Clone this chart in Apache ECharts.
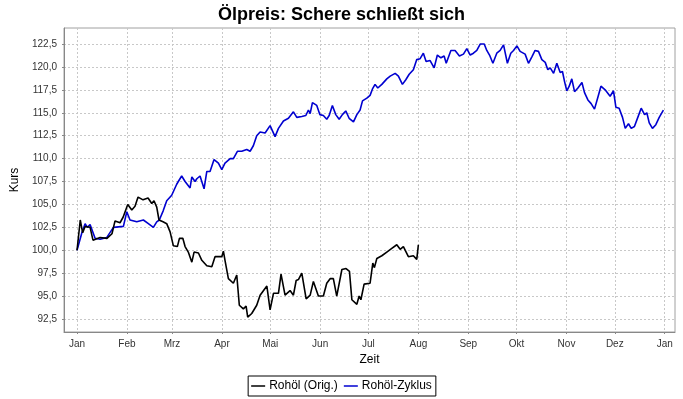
<!DOCTYPE html>
<html>
<head>
<meta charset="utf-8">
<title>Ölpreis: Schere schließt sich</title>
<script src="https://cdn.jsdelivr.net/npm/echarts@6/dist/echarts.min.js"></script>
<style>
    html, body { margin: 0; padding: 0; background: #fff; }
    #chart { width: 683px; height: 399px; }
</style>
</head>
<body>
<div id="chart"></div>
<script>
var oilDays = [0, 2, 3.5, 5, 8.1, 9.9, 14.3, 18.6, 21.7, 23.6, 26.7, 28.6, 31.5, 34, 36, 37.9, 41, 44.1, 46.4, 47.8,
    49.5, 50.9, 53.4, 55.7, 57.8, 59.8, 62.3, 63.6, 65.7, 67.1, 69.1, 71.3, 72.7, 75.4, 77.5, 80.6, 83.7, 85.7, 89.9, 90.9,
    91.9, 94, 97.1, 99.2, 100.8, 103.3, 105, 106, 108.5, 111.6, 113.7, 117.9, 119.9, 122, 125.1, 126.7, 129.2, 132.3, 134.4, 136.1,
    137.5, 139.6, 142.3, 144.8, 146.8, 149.9, 153, 155.1, 157.2, 159.2, 161.3, 164.5, 167.1, 169.2, 170.7, 173.8, 175.2, 176.3, 178.3, 182,
    183.7, 184.7, 186.2, 189.3, 192.4, 195.5, 198.6, 200.7, 202.7, 205.8, 208.9, 211, 212];
var oilValues = [100.0, 103.3, 101.9, 102.6, 102.5, 101.1, 101.4, 101.3, 101.8, 103.2, 103.0, 103.6, 105.0, 104.4, 104.8, 105.8, 105.5, 105.7, 105.1, 105.4,
    104.7, 103.3, 103.1, 102.9, 102.0, 100.5, 100.4, 101.3, 101.3, 100.4, 99.8, 98.7, 99.8, 99.7, 98.9, 98.3, 98.2, 99.3, 99.3, 99.9,
    98.9, 96.9, 96.4, 97.3, 94.0, 93.6, 93.9, 92.7, 93.1, 94.0, 95.1, 96.1, 93.5, 95.3, 95.3, 97.4, 95.1, 95.6, 95.1, 96.7,
    96.8, 97.5, 94.7, 95.1, 96.6, 95.0, 95.0, 96.4, 96.9, 96.9, 95.0, 97.9, 98.0, 97.7, 94.6, 94.1, 95.0, 94.6, 96.3, 96.4,
    98.6, 98.1, 99.1, 99.4, 99.8, 100.2, 100.6, 100.1, 100.4, 99.3, 99.4, 99.0, 100.6];

var cycleDays = [0, 1, 3, 5, 6.4, 8.1, 11.2, 14.3, 18.5, 22.6, 28.8, 30.9, 32.9, 37.1, 41.2, 44.3, 47.4, 49.5, 51.1, 53.5,
    55.7, 58.8, 61.9, 62.9, 65, 67.1, 70.2, 71.3, 73.3, 74.4, 76.4, 78.9, 80.6, 82.6, 85.1, 87.8, 89.9, 91.9, 95.1, 97.1,
    99.6, 102.3, 105.4, 107.5, 109.5, 111.6, 113.7, 116.8, 119.9, 123, 125.1, 128.2, 131.3, 132.3, 134.4, 136.5, 139.6, 142.1, 143.7, 144.8,
    146.2, 148.9, 150.8, 153, 155.1, 156.6, 158.6, 160.7, 162.8, 164.8, 166.9, 169, 171.7, 173.8, 175.8, 177.3, 180, 182, 183.5, 185.1,
    186.8, 189.3, 192.4, 194.5, 197.6, 199.6, 202.1, 204.2, 206.3, 208.9, 211, 213.1, 215.1, 216.8, 219.3, 221.8, 223.8, 226, 228, 229.3,
    232.2, 234.8, 237.5, 240, 242.1, 244.2, 246.2, 248.3, 250.4, 252.9, 254.5, 256.2, 258.3, 260.7, 262.8, 264.9, 267.3, 269.4, 271.1, 273.2,
    275.2, 278.3, 280.4, 282.5, 284.5, 286.6, 288.7, 290.8, 292.4, 293.9, 296, 298, 300.1, 301.5, 302.8, 304.2, 305.7, 307.3, 309, 311.1,
    313.6, 315.2, 317.3, 319.3, 321.4, 323.5, 325.4, 328, 331.1, 333.2, 334.7, 336.7, 338.8, 340.5, 342.5, 344.2, 346.2, 348.3, 350.4, 352.5,
    353.9, 355.4, 357.4, 359.5, 361.6, 364.2];
var cycleValues = [100.0, 100.0, 101.9, 102.9, 102.5, 102.8, 101.3, 101.2, 101.4, 102.5, 102.6, 104.2, 103.3, 103.1, 103.3, 102.9, 102.5, 103.1, 103.3, 104.3,
    105.4, 106.0, 107.2, 107.5, 108.1, 107.5, 106.8, 108.0, 107.5, 107.8, 108.1, 106.7, 108.6, 108.6, 109.9, 109.5, 108.8, 109.5, 110.0, 110.0,
    110.8, 110.8, 111.0, 110.8, 111.4, 112.5, 112.9, 112.8, 113.6, 112.4, 113.3, 114.1, 114.4, 114.3, 115.1, 114.5, 114.6, 114.7, 115.3, 114.9,
    116.1, 115.8, 114.8, 114.7, 114.3, 114.7, 115.8, 114.8, 114.3, 114.8, 115.2, 114.4, 114.0, 114.8, 115.3, 116.3, 116.6, 116.9, 117.6, 118.1,
    117.7, 118.1, 118.7, 119.0, 119.3, 119.0, 118.1, 118.6, 119.2, 119.7, 120.8, 120.9, 121.5, 120.6, 120.7, 119.9, 121.3, 121.0, 121.2, 120.4,
    121.8, 121.8, 121.2, 121.4, 122.0, 121.3, 121.5, 121.8, 122.5, 122.5, 121.8, 121.3, 120.4, 121.5, 121.8, 122.4, 120.4, 121.5, 121.8, 122.3,
    121.7, 121.4, 120.4, 121.1, 121.8, 121.7, 120.8, 120.5, 119.7, 119.9, 119.3, 120.4, 119.4, 119.5, 118.4, 117.4, 117.9, 118.7, 117.3, 117.7,
    118.3, 117.2, 116.4, 116.0, 115.4, 116.7, 117.9, 117.5, 116.8, 117.4, 115.6, 115.5, 114.5, 113.3, 113.8, 113.3, 113.5, 114.5, 115.5, 114.8,
    115.0, 113.9, 113.3, 113.7, 114.5, 115.3];

var monthStarts = [0, 31, 59, 90, 120, 151, 181, 212, 243, 273, 304, 334, 365];
var monthLabels = ['Jan', 'Feb', 'Mrz', 'Apr', 'Mai', 'Jun', 'Jul', 'Aug', 'Sep', 'Okt', 'Nov', 'Dez', 'Jan'];
var yTicks = [92.5, 95, 97.5, 100, 102.5, 105, 107.5, 110, 112.5, 115, 117.5, 120, 122.5];

var zip = (xs, ys) => xs.map((x, i) => [x, ys[i]]);

var font = '"Liberation Sans", Arial, sans-serif';
var gridLine = { show: true, lineStyle: { color: '#c8c8c8', type: [2, 2], width: 1 } };

var myChart = echarts.init(document.getElementById('chart'), null, { renderer: 'canvas' });

var option = {
    backgroundColor: '#ffffff',
    animation: false,
    textStyle: { fontFamily: font },
    title: {
        text: 'Ölpreis: Schere schließt sich',
        left: 'center',
        top: 6,
        padding: 0,
        textStyle: { fontSize: 18, fontWeight: 'bold', color: '#000', fontFamily: font }
    },
    legend: {
        data: ['Rohöl (Orig.)', 'Rohöl-Zyklus'],
        left: 'center',
        top: 376,
        padding: [4, 4, 4, 3],
        borderColor: '#000',
        borderWidth: 1,
        itemWidth: 14,
        itemHeight: 1.5,
        itemGap: 6,
        icon: 'rect',
        textStyle: { fontSize: 12, color: '#000', fontFamily: font, padding: [0, 0, 0, -1] }
    },
    grid: {
        left: 64,
        top: 28,
        right: 8,
        bottom: 67,
        show: true,
        borderColor: '#a0a0a0',
        borderWidth: 1
    },
    xAxis: {
        type: 'value',
        min: -8.1,
        max: 371.4,
        name: 'Zeit',
        nameLocation: 'middle',
        nameGap: 22,
        nameTextStyle: { fontSize: 12, color: '#000' },
        axisLine: { show: true, onZero: false, lineStyle: { color: '#888' } },
        axisTick: { show: true, length: 2, customValues: monthStarts, lineStyle: { color: '#888' } },
        axisLabel: {
            customValues: monthStarts,
            fontSize: 10,
            color: '#333',
            margin: 7,
            formatter: function(v) {
                return monthLabels[monthStarts.indexOf(v)];
            }
        },
        splitLine: gridLine
    },
    yAxis: {
        type: 'value',
        min: 91.08,
        max: 124.25,
        name: 'Kurs',
        nameLocation: 'middle',
        nameGap: 35,
        nameTextStyle: { fontSize: 12, color: '#000' },
        axisLine: { show: true, onZero: false, lineStyle: { color: '#888' } },
        axisTick: { show: true, length: 2, customValues: yTicks, lineStyle: { color: '#888' } },
        axisLabel: {
            customValues: yTicks,
            fontSize: 10,
            color: '#333',
            margin: 7,
            formatter: function(v) {
                return v.toFixed(1).replace('.', ',');
            }
        },
        splitLine: gridLine
    },
    series: [
        {
            name: 'Rohöl (Orig.)',
            type: 'line',
            data: zip(oilDays, oilValues),
            showSymbol: false,
            color: '#000000',
            lineStyle: { width: 1.6, color: '#000000' },
            z: 3
        },
        {
            name: 'Rohöl-Zyklus',
            type: 'line',
            data: zip(cycleDays, cycleValues),
            showSymbol: false,
            color: '#0000d0',
            lineStyle: { width: 1.6, color: '#0000d0' },
            z: 2
        }
    ]
};

myChart.setOption(option, true);
</script>
</body>
</html>
